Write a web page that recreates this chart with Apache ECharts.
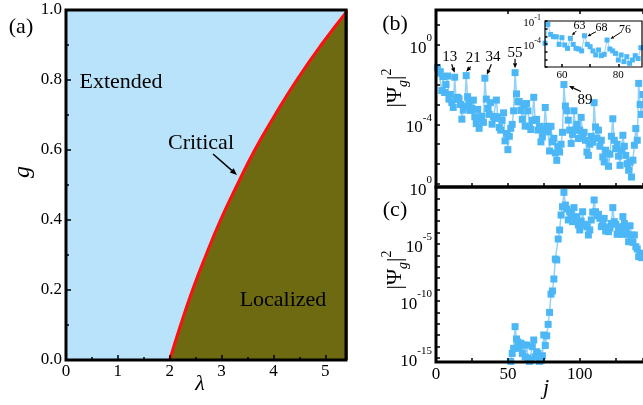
<!DOCTYPE html>
<html>
<head>
<meta charset="utf-8">
<script src="https://cdn.jsdelivr.net/npm/echarts@6/dist/echarts.min.js"></script>
<style>
html, body { margin: 0; padding: 0; background: #fff; }
#chart { width: 643px; height: 405px; }
</style>
</head>
<body>
<div id="chart"></div>
<script>
// ---- (a) phase boundary: lambda_c at g = 0, 0.1, ..., 1.0
const boundaryG = [0, 0.1, 0.2, 0.3, 0.4, 0.5, 0.6, 0.7, 0.8, 0.9, 1.0];
const boundaryLambda = [2.0, 2.21, 2.44, 2.70, 2.98, 3.30, 3.64, 4.03, 4.45, 4.92, 5.44];

// ---- (b) critical state, log10 |Psi_g|^2 for j = 1..144
const startB = 1;
const expB = [
  -1.15, -1.42, -1.35, -2.3, -1.6, -2.4, -2.0, -1.57, -2.73, -2.5,
  -2.9, -3.15, -1.63, -2.75, -2.64, -2.71, -3.0, -3.74, -3.28, -3.1,
  -1.55, -2.61, -2.95, -3.3, -3.2, -2.78, -3.62, -3.96, -3.25, -4.2,
  -3.7, -3.59, -3.9, -1.68, -2.73, -3.2, -3.5, -2.91, -3.99, -3.6,
  -3.7, -2.78, -3.62, -4.16, -4.29, -3.8, -3.42, -4.83, -4.46, -5.27,
  -4.6, -4.2, -4.0, -3.32, -1.40, -2.47, -2.86, -2.86, -3.3, -3.75,
  -3.03, -4.09, -2.95, -3.32, -4.09, -4.26, -3.8, -2.64, -3.79, -3.75,
  -4.29, -4.1, -4.88, -4.63, -4.3, -3.15, -4.1, -4.38, -5.34, -4.1,
  -4.88, -4.7, -5.44, -5.81, -5.1, -5.39, -5.0, -4.4, -2.0, -3.08,
  -3.32, -3.79, -4.29, -4.96, -4.5, -3.32, -4.29, -4.0, -4.71, -4.3,
  -3.65, -4.6, -4.4, -4.8, -5.39, -5.56, -5.0, -4.6, -4.9, -2.91,
  -4.13, -4.7, -4.29, -5.1, -4.8, -5.64, -5.89, -5.3, -5.47, -6.11,
  -5.5, -4.6, -3.72, -4.8, -5.22, -5.0, -5.6, -6.06, -5.3, -4.55,
  -5.1, -5.56, -5.98, -6.31, -5.9, -6.65, -5.8, -5.05, -4.21, -4.8,
  -1.94, -3.0, -3.5, -2.5
];
const peaksB = [13, 21, 34, 55, 89];

// ---- (b) inset, log10 |Psi_g|^2 for j = 54..88
const startInset = 54;
const expInset = [
  -3.9, -1.45, -2.75, -3.05, -3.05, -4.05, -3.17, -4.13, -4.57, -3.27,
  -4.05, -4.57, -4.65, -4.9, -2.92, -4.05, -4.35, -4.9, -5.43, -4.78,
  -5.52, -5.35, -3.48, -4.65, -4.9, -5.22, -6.09, -5.43, -6.3, -5.65,
  -6.52, -6.09, -5.52, -5.9, -4.48
];
const peaksInset = [63, 68, 76];

// ---- (c) localized state, log10 |Psi_g|^2 for j = 51..144
const startC = 51;
const expC = [
  -16.5, -15.3, -14.6, -14.15, -12.25, -13.33, -13.6, -14.15, -13.7, -14.6,
  -13.86, -14.9, -13.86, -15.0, -15.3, -15.2, -14.0, -13.42, -14.9, -14.45,
  -14.6, -15.3, -15.2, -14.8, -12.98, -13.9, -13.05, -12.05, -11.0, -9.4,
  -9.12, -8.07, -6.32, -6.4, -4.56, -3.77, -2.46, -1.73, -0.47, -1.58,
  -1.93, -2.89, -2.17, -2.4, -3.04, -1.81, -2.89, -2.6, -3.33, -3.77,
  -3.0, -2.17, -3.27, -3.33, -3.5, -4.21, -3.77, -2.89, -2.2, -1.14,
  -2.17, -2.52, -2.4, -2.75, -3.48, -3.33, -2.75, -3.86, -3.5, -3.92,
  -3.6, -3.2, -1.81, -3.04, -3.27, -4.15, -3.6, -3.48, -4.15, -2.6,
  -3.2, -3.62, -4.15, -4.8, -3.4, -4.21, -4.85, -4.21, -5.24, -5.44,
  -6.11, -5.8, -6.2, -6.0
];

// ---- axis tick values
const gTicks = [0, 0.2, 0.4, 0.6, 0.8, 1.0];
const decadesB = [1, 0, -1, -2, -3, -4, -5, -6, -7];
const labelDecadesB = [0, -4];
const decadesC = [0, -1, -2, -3, -4, -5, -6, -7, -8, -9, -10, -11, -12, -13, -14, -15];
const labelDecadesC = [0, -5, -10, -15];
const decadesInset = [-1, -2, -3, -4, -5, -6, -7];
const labelDecadesInset = [-1, -4];
const jLabels = [0, 50, 100];
const insetJTicks = [60, 70, 80];
const insetJLabels = [60, 80];

const FONT = '"Liberation Serif", "Times New Roman", serif';
const BLUE = '#4cb7f6';
const BLUE_LINE = '#93d2f8';

const pow10 = e => Math.pow(10, e);
const toPoints = (start, exps) => exps.map((e, i) => [start + i, pow10(e)]);

const chart = echarts.init(document.getElementById('chart'), null, { renderer: 'canvas' });

function tick(len) {
  return { show: true, inside: true, length: len, lineStyle: { color: '#000', width: 1.5 } };
}
function powRich(big, small, lh) {
  return {
    b: { fontFamily: FONT, fontSize: big, color: '#000', lineHeight: lh, verticalAlign: 'bottom' },
    s: { fontFamily: FONT, fontSize: small, color: '#000', lineHeight: Math.round(small * 0.9), verticalAlign: 'top' }
  };
}
const powFormatter = v => '{b|10}{s|' + Math.round(Math.log10(v)) + '}';

function logYAxis(gridIndex, lo, hi, decades, labelDecades, big, small, lh, tickLen) {
  return {
    type: 'log', gridIndex, min: pow10(lo), max: pow10(hi), z: 5,
    axisLine: { show: false }, splitLine: { show: false },
    axisTick: Object.assign(tick(tickLen), { customValues: decades.map(pow10) }),
    minorTick: { show: false },
    axisLabel: {
      customValues: labelDecades.map(pow10), margin: 4,
      formatter: powFormatter, rich: powRich(big, small, lh)
    }
  };
}

const option = {
  animation: false,
  backgroundColor: '#fff',
  grid: [
    { left: 66, top: 10, width: 280, height: 350, show: true, backgroundColor: '#b9e3fb', borderWidth: 0 },
    { left: 436, top: 10, width: 210, height: 177 },
    { left: 436, top: 187, width: 210, height: 175 },
    { left: 545, top: 21, width: 97, height: 46, show: true, backgroundColor: '#fff', borderWidth: 0 }
  ],
  xAxis: [
    { // (a) lambda
      type: 'value', gridIndex: 0, min: 0, max: 5.4, interval: 1, z: 5,
      axisLine: { show: false }, splitLine: { show: false },
      axisTick: tick(5), minorTick: { show: true, splitNumber: 2, length: 3, lineStyle: { color: '#000', width: 1.5 } },
      axisLabel: { color: '#000', fontFamily: FONT, fontSize: 17, margin: 3, showMaxLabel: false }
    },
    { // (b) bottom
      type: 'value', gridIndex: 1, min: 0, max: 144, interval: 25, z: 5,
      axisLine: { show: false }, splitLine: { show: false },
      axisTick: tick(4), axisLabel: { show: false }
    },
    { // (b) top
      type: 'value', gridIndex: 1, position: 'top', min: 0, max: 144, interval: 50, z: 5,
      axisLine: { show: false }, splitLine: { show: false },
      axisTick: tick(4), axisLabel: { show: false }
    },
    { // (c) j
      type: 'value', gridIndex: 2, min: 0, max: 144, interval: 25, z: 5,
      axisLine: { show: false }, splitLine: { show: false },
      axisTick: tick(4),
      axisLabel: { customValues: jLabels, color: '#000', fontFamily: FONT, fontSize: 17, margin: 4 }
    },
    { // inset j
      type: 'value', gridIndex: 3, min: 54, max: 88.4, z: 5,
      axisLine: { show: false }, splitLine: { show: false },
      axisTick: Object.assign(tick(3), { customValues: insetJTicks }),
      axisLabel: { customValues: insetJLabels, color: '#000', fontFamily: FONT, fontSize: 11, margin: 3 }
    }
  ],
  yAxis: [
    { // (a) g
      type: 'value', gridIndex: 0, min: 0, max: 1, interval: 0.2, z: 5,
      axisLine: { show: false }, splitLine: { show: false },
      axisTick: tick(5), minorTick: { show: true, splitNumber: 2, length: 3, lineStyle: { color: '#000', width: 1.5 } },
      axisLabel: { color: '#000', fontFamily: FONT, fontSize: 17, margin: 4, formatter: v => v.toFixed(1) }
    },
    logYAxis(1, -7.15, 1.75, decadesB, labelDecadesB, 17, 11, 24, 4),
    logYAxis(2, -15.35, 0, decadesC, labelDecadesC, 17, 11, 24, 4),
    logYAxis(3, -7, -1, decadesInset, labelDecadesInset, 11, 8, 15, 2.5)
  ],
  series: [
    {
      type: 'line', xAxisIndex: 0, yAxisIndex: 0, smooth: true, symbol: 'none',
      data: boundaryLambda.map((l, i) => [l, boundaryG[i]]),
      lineStyle: { color: '#ff1010', width: 3 },
      areaStyle: { color: '#6e6a12', opacity: 1 }
    },
    {
      type: 'line', xAxisIndex: 1, yAxisIndex: 1, data: toPoints(startB, expB),
      symbol: 'rect', symbolSize: 7, itemStyle: { color: BLUE },
      lineStyle: { color: BLUE_LINE, width: 1.5 }
    },
    {
      type: 'line', xAxisIndex: 3, yAxisIndex: 2, data: toPoints(startC, expC),
      symbol: 'rect', symbolSize: 7, itemStyle: { color: BLUE },
      lineStyle: { color: BLUE_LINE, width: 1.5 }
    },
    {
      type: 'line', xAxisIndex: 4, yAxisIndex: 3, data: toPoints(startInset, expInset),
      symbol: 'rect', symbolSize: 5, itemStyle: { color: BLUE },
      lineStyle: { color: BLUE_LINE, width: 1 }
    }
  ]
};
chart.setOption(option);

// ---- annotations, frames and titles
function arrow(x1, y1, x2, y2, head, lw) {
  const a = Math.atan2(y2 - y1, x2 - x1);
  const hx = x2 - head * Math.cos(a), hy = y2 - head * Math.sin(a);
  const w = head * 0.42;
  return [
    { type: 'line', z: 60, shape: { x1, y1, x2: hx, y2: hy }, style: { stroke: '#000', lineWidth: lw } },
    { type: 'polygon', z: 60, shape: { points: [[x2, y2], [hx - w * Math.sin(a), hy + w * Math.cos(a)], [hx + w * Math.sin(a), hy - w * Math.cos(a)]] }, style: { fill: '#000' } }
  ];
}
function label(text, x, y, size, extra) {
  return {
    type: 'text', z: 60, x, y,
    style: Object.assign({ text, fontFamily: FONT, fontSize: size, fill: '#000', align: 'center', verticalAlign: 'middle' }, extra || {})
  };
}
function frame(x, y, w, h, lw) {
  return { type: 'rect', z: 55, shape: { x, y, width: w, height: h }, style: { fill: null, stroke: '#000', lineWidth: lw } };
}
function psiLabel(x, y) {
  return {
    type: 'group', x, y, rotation: Math.PI / 2, z: 60,
    children: [{
      type: 'text', z: 60,
      style: {
        text: '{n||Ψ}{g|g}{n||}{s|2}', align: 'center', verticalAlign: 'middle',
        rich: {
          n: { fontFamily: FONT, fontSize: 22, fill: '#000', lineHeight: 30, verticalAlign: 'middle' },
          g: { fontFamily: FONT, fontSize: 14, fontStyle: 'italic', fill: '#000', lineHeight: 12, verticalAlign: 'bottom' },
          s: { fontFamily: FONT, fontSize: 14, fill: '#000', lineHeight: 12, verticalAlign: 'top' }
        }
      }
    }]
  };
}

const px = (xi, yi, pt) => chart.convertToPixel({ xAxisIndex: xi, yAxisIndex: yi }, pt);

const graphics = [];
// frames
graphics.push(frame(66, 10, 280, 350, 3));
graphics.push(frame(436, 10, 210, 177, 3));
graphics.push(frame(436, 187, 210, 175, 3));
graphics.push(frame(545, 21, 97, 46, 1.2));

// panel (a) texts
graphics.push(label('(a)', 21, 27, 22));
graphics.push(label('Extended', 121, 82, 22));
graphics.push(label('Critical', 201, 143, 22));
graphics.push(label('Localized', 283, 300, 22));
graphics.push(...arrow(213, 154, 237, 175, 7, 1.5));
graphics.push(label('λ', 200, 384, 22, { fontStyle: 'italic' }));
graphics.push({ type: 'group', x: 23, y: 172, rotation: Math.PI / 2, z: 60, children: [label('g', 0, 0, 24, { fontStyle: 'italic' })] });

// panels (b), (c) texts
graphics.push(label('(b)', 395, 24, 22));
graphics.push(label('(c)', 395, 210, 22));
graphics.push(psiLabel(395, 88));
graphics.push(psiLabel(395, 270));
graphics.push(label('j', 546, 388, 22, { fontStyle: 'italic' }));

// Fibonacci peak markers in (b)
const peakOffsets = {
  13: { t: [-5, -20], a: [-3, -13], h: [0, -4.5] },
  21: { t: [7, -18], a: [4.5, -9], h: [0, -4] },
  34: { t: [8, -21], a: [6.5, -14], h: [2, -3.5] },
  55: { t: [0, -20], a: [0, -14], h: [0, -4.5] },
  89: { t: [21, 15], a: [17, 7], h: [5, 1.5] }
};
peaksB.forEach(j => {
  const p = px(1, 1, [j, pow10(expB[j - startB])]);
  const o = peakOffsets[j];
  graphics.push(label(String(j), p[0] + o.t[0], p[1] + o.t[1], 15));
  graphics.push(...arrow(p[0] + o.a[0], p[1] + o.a[1], p[0] + o.h[0], p[1] + o.h[1], 5, 1.2));
});

// inset peak markers
const insetOffsets = {
  63: { t: [9, -13], a: [6, -7.5], h: [1.5, -3] },
  68: { t: [17, -8], a: [11.5, -4], h: [3, 0.5] },
  76: { t: [18, -10], a: [13.5, -7.5], h: [3.5, -1] }
};
peaksInset.forEach(j => {
  const p = px(4, 3, [j, pow10(expInset[j - startInset])]);
  const o = insetOffsets[j];
  graphics.push(label(String(j), p[0] + o.t[0], p[1] + o.t[1], 12));
  graphics.push(...arrow(p[0] + o.a[0], p[1] + o.a[1], p[0] + o.h[0], p[1] + o.h[1], 3.5, 1));
});

chart.setOption({ graphic: { elements: graphics } });
</script>
</body>
</html>
